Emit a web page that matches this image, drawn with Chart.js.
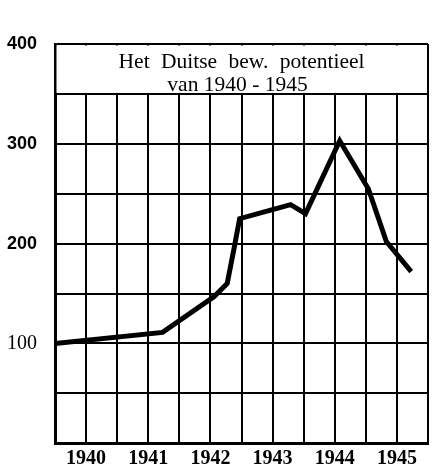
<!DOCTYPE html>
<html>
<head>
<meta charset="utf-8">
<script src="https://cdn.jsdelivr.net/npm/chart.js@4/dist/chart.umd.min.js"></script>
<style>
  html, body { margin: 0; padding: 0; background: #fff; }
  #wrap { width: 432px; height: 472px; }
</style>
</head>
<body>
<div id="wrap"><canvas id="c" width="432" height="472"></canvas></div>
<script>
// ---- data ----
const years  = [1940.0, 1941.73, 1942.56, 1942.77, 1942.88, 1942.97, 1943.44, 1943.79, 1944.03, 1944.58, 1945.04, 1945.33, 1945.73];
const values = [100,    111,     147,     160,     195,     225,     233,     239,     230,     303,     255,     202,     172];
const yearLabels = [1940, 1941, 1942, 1943, 1944, 1945];
const yTickLabels = [100, 200, 300, 400];
const titleLines = ["Het Duitse bew. potentieel", "van 1940 - 1945"];

const points = years.map((x, i) => ({ x: x, y: values[i] }));

const titleBand = {
  id: 'titleBand',
  beforeDatasetsDraw(chart) {
    const { ctx, chartArea } = chart;
    const y = chart.scales.y;
    const bandBottom = y.getPixelForValue(350);
    ctx.save();
    ctx.fillStyle = '#ffffff';
    ctx.fillRect(chartArea.left + 1.5, chartArea.top + 1.5,
                 chartArea.right - chartArea.left - 3, bandBottom - chartArea.top - 2.5);
    ctx.fillStyle = '#000';
    ctx.textAlign = 'center';
    ctx.textBaseline = 'alphabetic';
    ctx.font = '21.5px "Liberation Serif"';
    const cx = (chartArea.left + chartArea.right) / 2;
    try { ctx.wordSpacing = '6px'; } catch (e) {}
    ctx.fillText(titleLines[0], cx, chartArea.top + 24);
    try { ctx.wordSpacing = '0px'; } catch (e) {}
    ctx.fillText(titleLines[1], cx - 4, chartArea.top + 46.5);
    ctx.restore();
  }
};

new Chart(document.getElementById('c'), {
  type: 'line',
  data: {
    datasets: [{
      data: points,
      borderColor: '#000',
      borderWidth: 5,
      borderJoinStyle: 'miter',
      pointRadius: 0,
      tension: 0,
      fill: false
    }]
  },
  options: {
    responsive: false,
    devicePixelRatio: 1,
    animation: false,
    layout: { padding: { top: 44, right: 2, left: 0, bottom: 0 } },
    plugins: { legend: { display: false }, tooltip: { enabled: false }, title: { display: false } },
    scales: {
      x: {
        type: 'linear',
        min: 1940, max: 1946,
        afterFit(s) { s.height = 23; },
        grid: { color: '#000', lineWidth: 2, drawTicks: false },
        border: { color: '#000', width: 3 },
        ticks: {
          stepSize: 0.5,
          autoSkip: false,
          maxRotation: 0,
          padding: 4,
          color: '#000',
          font: { family: '"Liberation Serif"', size: 20, weight: 'bold' },
          callback(v) {
            const f = Math.floor(v);
            return (Math.abs(v - f - 0.5) < 1e-6 && yearLabels.includes(f)) ? String(f) : '';
          }
        }
      },
      y: {
        min: 0, max: 400,
        afterFit(s) { s.width = 55; },
        grid: { color: '#000', lineWidth: 2, drawTicks: false },
        border: { color: '#000', width: 3 },
        ticks: {
          stepSize: 50,
          padding: 18,
          color: '#000',
          font(ctx) {
            if (ctx.tick && ctx.tick.value === 100) {
              return { family: '"Liberation Serif"', size: 20, weight: 'normal' };
            }
            return { family: '"Liberation Sans"', size: 18, weight: 'bold' };
          },
          callback(v) { return yTickLabels.includes(v) ? String(v) : ''; }
        }
      }
    }
  },
  plugins: [titleBand]
});
</script>
</body>
</html>
